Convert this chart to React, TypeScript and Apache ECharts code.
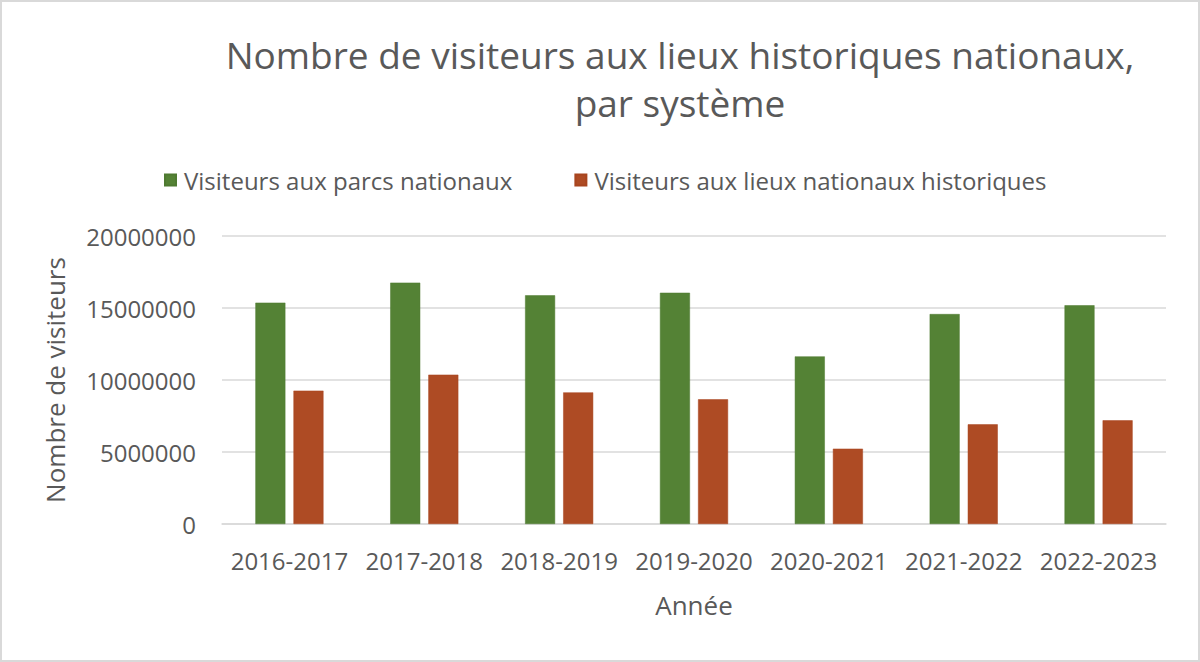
import React, { useEffect, useRef } from "react";
import * as echarts from "echarts";

const categories = ["2016-2017", "2017-2018", "2018-2019", "2019-2020", "2020-2021", "2021-2022", "2022-2023"];
const parcs = [15370000, 16760000, 15880000, 16060000, 11640000, 14580000, 15190000];
const lieux = [9260000, 10370000, 9140000, 8660000, 5230000, 6920000, 7200000];
const seriesNames = ["Visiteurs aux parcs nationaux", "Visiteurs aux lieux nationaux historiques"];
const titleText = "Nombre de visiteurs aux lieux historiques nationaux,\npar système";
const yAxisName = "Nombre de visiteurs";
const xAxisName = "Année";

const FONT = "'Open Sans', 'Noto Sans', sans-serif";
const TXT = "#595959";

export default function App() {
  const ref = useRef<HTMLDivElement>(null);
  useEffect(() => {
    document.body.style.margin = "0";
    const chart = echarts.init(ref.current!, undefined, { renderer: "svg" });
    chart.setOption({
      animation: false,
      backgroundColor: "#ffffff",
      textStyle: { fontFamily: FONT },
      title: {
        text: titleText,
        left: 673,
        top: 23,
        textAlign: "center",
        textStyle: { fontFamily: FONT, fontSize: 37, fontWeight: "normal", color: TXT, lineHeight: 48 },
      },
      legend: {
        top: 161,
        left: 157,
        itemWidth: 11,
        itemHeight: 11,
        itemGap: 62,
        icon: "rect",
        textStyle: { fontFamily: FONT, fontSize: 24, color: TXT, padding: [0, 0, 0, 3] },
        data: seriesNames,
      },
      grid: { left: 220, right: 32, top: 234, bottom: 136 },
      xAxis: {
        type: "category",
        data: categories,
        name: xAxisName,
        nameLocation: "middle",
        nameGap: 68,
        nameTextStyle: { fontFamily: FONT, fontSize: 26, color: TXT },
        axisLine: { lineStyle: { color: "#d9d9d9", width: 1.5 } },
        axisTick: { show: false },
        axisLabel: { fontFamily: FONT, fontSize: 24, color: TXT, margin: 24, interval: 0 },
      },
      yAxis: {
        type: "value",
        min: 0,
        max: 20000000,
        interval: 5000000,
        name: yAxisName,
        nameLocation: "middle",
        nameGap: 154,
        nameTextStyle: { fontFamily: FONT, fontSize: 26, color: TXT },
        axisLine: { show: false },
        axisTick: { show: false },
        axisLabel: { fontFamily: FONT, fontSize: 24, color: TXT, margin: 26, formatter: (v: number) => String(v) },
        splitLine: { lineStyle: { color: "#d9d9d9", width: 1.5 } },
      },
      series: [
        {
          name: seriesNames[0],
          type: "bar",
          data: parcs,
          barWidth: 30,
          barGap: "27%",
          itemStyle: { color: "#548235", borderColor: "#4e7a31", borderWidth: 0.5 },
        },
        {
          name: seriesNames[1],
          type: "bar",
          data: lieux,
          barWidth: 30,
          barGap: "27%",
          itemStyle: { color: "#AE4B24", borderColor: "#a8451f", borderWidth: 0.5 },
        },
      ],
    });
    return () => chart.dispose();
  }, []);
  return (
    <div
      style={{ width: 1200, height: 662, boxSizing: "border-box", border: "2px solid #d9d9d9", background: "#fff" }}
    >
      <div ref={ref} style={{ width: 1196, height: 658 }} />
    </div>
  );
}
